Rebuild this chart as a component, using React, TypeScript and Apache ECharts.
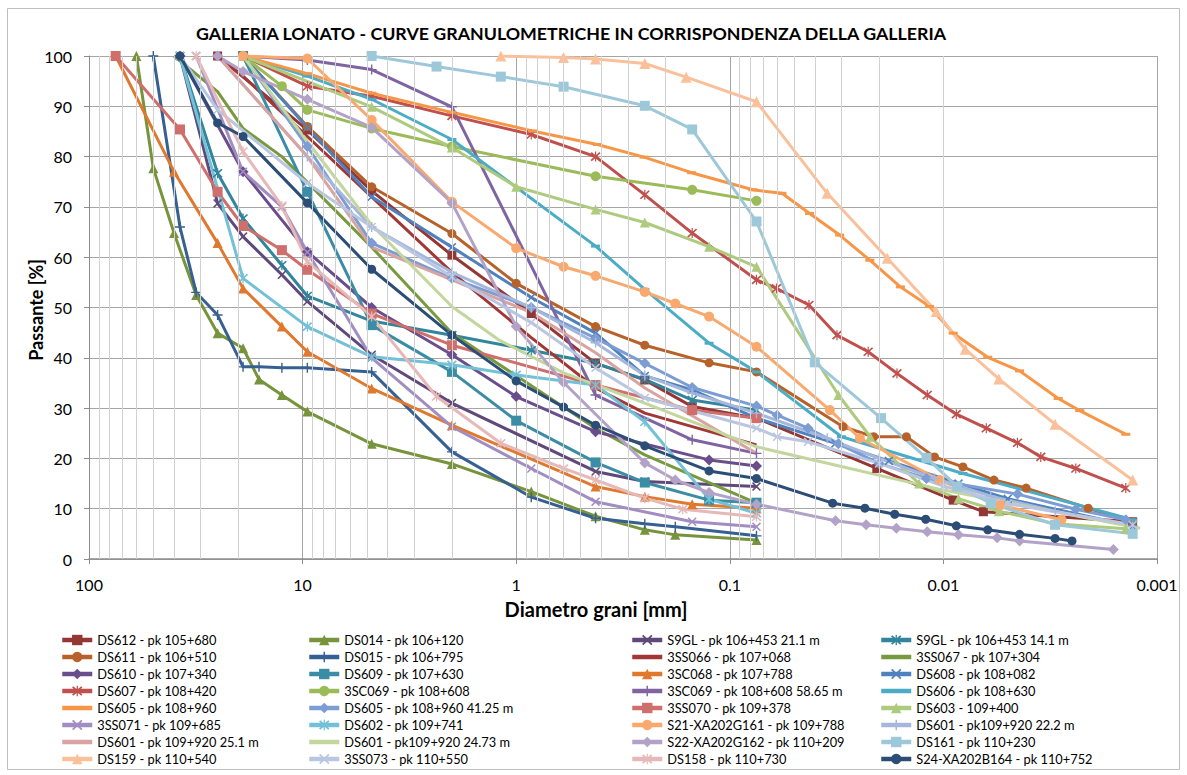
import React, { useEffect, useRef } from 'react';
import * as echarts from 'echarts';

type P = [number, number][];

const DS612: P = [[25,100],[9.5,85.3],[4.75,73.2],[2,60.4],[0.85,48.8],[0.425,38.9],[0.25,35.6],[0.15,30.3],[0.075,28],[0.0205,18],[0.009,11.7],[0.0065,9.4],[0.0013,7.4]];
const DS014: P = [[60,100],[50,77.7],[40,64.8],[31.5,52.5],[25,44.9],[19,41.9],[16,35.7],[12.5,32.6],[9.5,29.3],[4.75,22.9],[2,18.9],[0.85,13.4],[0.425,8.5],[0.25,5.8],[0.18,4.8],[0.075,3.8]];
const S9GL_21: P = [[37.5,100],[25,70.7],[19,64.1],[12.5,56.5],[9.5,51.2],[4.75,40.6],[2,31],[0.425,17.4],[0.25,15.4],[0.075,14.4]];
const S9GL_14: P = [[37.5,100],[25,76.7],[19,67.7],[12.5,58.4],[9.5,52.3],[4.75,47.3],[2,44.5],[0.85,41.5],[0.425,38.9],[0.25,35.7],[0.15,31.6],[0.075,29.6]];
const DS611: P = [[19,100],[9.5,86],[4.75,74],[2,64.7],[1,54.8],[0.425,46.2],[0.25,42.5],[0.125,39],[0.075,37.2],[0.0295,26.3],[0.0212,24.3],[0.0149,24.3],[0.011,20.3],[0.0081,18.3],[0.0058,15.7],[0.0041,14.1],[0.0021,10.1],[0.0013,7.4]];
const DS015: P = [[50,100],[37.5,66],[31.5,53],[25,48.5],[19,38.2],[16,38.2],[12.5,38],[9.5,38],[4.75,37.2],[2,21.3],[0.85,12.3],[0.425,8.1],[0.25,7],[0.18,6.4],[0.075,4.6]];
const SS066: P = [[25,100],[19,96],[9.5,84],[4.75,72],[2,57],[0.85,44],[0.425,34],[0.25,29],[0.075,22.7]];
const SS067: P = [[40,100],[25,92.9],[19,85.6],[12.5,80],[4.75,62],[2,44.9],[0.425,26],[0.25,20.7],[0.075,11.1]];
const DS610: P = [[37.5,100],[19,77],[9.5,61.1],[4.75,50],[2,40.6],[1,32.3],[0.425,25.3],[0.125,19.7],[0.075,18.5]];
const DS609: P = [[19,100],[9.5,73],[4.75,46.5],[2,37.2],[1,27.5],[0.425,19.2],[0.25,15.2],[0.125,11.7],[0.075,11.2]];
const SC068: P = [[75,100],[40,77],[25,62.8],[19,53.8],[12.5,46.2],[9.5,41.2],[4.75,33.9],[2,26.6],[0.425,14.4],[0.25,12.4],[0.15,10.9],[0.075,10.1]];
const DS608: P = [[19,100],[9.5,85.8],[4.75,72],[2,62],[0.85,52],[0.425,44.9],[0.25,36.4],[0.15,33.6],[0.075,28],[0.032,23],[0.018,19.5],[0.0085,15],[0.005,12],[0.0013,6.5]];
const DS607: P = [[19,100],[9.5,94],[4.75,92],[2,88.1],[0.85,84.4],[0.425,80],[0.25,72.4],[0.15,64.8],[0.075,55.5],[0.0605,53.8],[0.0426,50.5],[0.0315,44.5],[0.0225,41.2],[0.0165,36.9],[0.0119,32.6],[0.0087,28.8],[0.0063,26],[0.0045,23.1],[0.0035,20.3],[0.0024,18],[0.0014,14.1]];
const SC069: P = [[19,100],[12.5,94],[9.5,89.3],[4.75,85.6],[2,82],[0.425,76.1],[0.15,73.4],[0.075,71.2]];
const SC069_58: P = [[19,100],[9.5,99.2],[4.75,97.3],[2,89.9],[0.425,32.6],[0.15,23.7],[0.075,21]];
const DS606: P = [[19,100],[9.5,96],[4.75,91.4],[2,83.4],[0.425,62.2],[0.25,53.6],[0.125,42.9],[0.075,37.2],[0.03,24.3],[0.0081,17],[0.0013,7.8]];
const DS605: P = [[19,100],[9.5,96.5],[4.75,92.6],[2,88.8],[0.84,85.1],[0.417,82.4],[0.252,79.9],[0.151,76.8],[0.078,73.4],[0.057,72.7],[0.0423,68.7],[0.0306,64.4],[0.0221,59.4],[0.0159,54.1],[0.0116,50.2],[0.009,44.9],[0.0062,40.1],[0.0044,37.4],[0.0029,31.9],[0.0023,29.5],[0.0014,24.8]];
const DS605_41: P = [[19,100],[9.5,82],[4.75,62.8],[2,55.8],[0.85,50],[0.425,43.9],[0.25,38.9],[0.15,34.1],[0.075,30.4],[0.06,28.6],[0.043,26],[0.031,22.9],[0.02,19],[0.012,16],[0.0045,12.9],[0.0024,9.9],[0.0014,7.8]];
const SS070: P = [[75,100],[37.5,85.4],[25,73],[19,66.2],[12.5,61.4],[9.5,57.5],[4.75,48.8],[2,42.5],[0.425,34.6],[0.15,29.6],[0.075,28]];
const DS603: P = [[19,100],[4.75,89.9],[2,81.8],[1,74],[0.425,69.5],[0.25,66.9],[0.125,62.1],[0.075,58.1],[0.031,32.6],[0.022,24.3],[0.013,15],[0.0085,12],[0.0055,9.5],[0.003,7],[0.0014,6]];
const SS071: P = [[31.5,100],[19,77],[12.5,70],[9.5,61],[4.75,40],[2,26.3],[0.85,18],[0.425,11.4],[0.15,7.4],[0.075,6.4]];
const DS602: P = [[37.5,100],[19,55.8],[9.5,46.2],[4.75,40.2],[2,38.6],[1,36.6],[0.425,34.6],[0.25,27.3],[0.125,11.9],[0.075,9.1]];
const S21: P = [[19,100],[9.5,99.5],[4.75,87.3],[2,71],[1,61.8],[0.6,58.1],[0.425,56.3],[0.25,53.1],[0.18,50.8],[0.125,48.2],[0.075,42.2],[0.034,29.6],[0.0246,24],[0.0104,15.7],[0.0054,10.7],[0.0028,7.8]];
const DS601_22: P = [[25,100],[9.5,80],[4.75,66],[2,57],[0.85,50],[0.425,43],[0.25,36.5],[0.15,33],[0.075,29],[0.035,24],[0.02,20],[0.011,16],[0.006,12.5],[0.003,9.5],[0.0013,6.5]];
const DS601_25: P = [[25,100],[9.5,80],[4.75,62],[2,55.5],[0.85,49],[0.425,41],[0.25,34],[0.075,21]];
const DS601_24: P = [[19,100],[9.5,83],[4.75,66.4],[2,50.2],[1.2,43.5],[0.6,37],[0.25,31],[0.075,22.3],[0.01,13.7],[0.0012,6.1]];
const S22: P = [[25,100],[19,96.9],[9.5,91.4],[4.75,85.8],[2,70.8],[1,46.2],[0.6,35.1],[0.25,19.1],[0.18,15.7],[0.125,13.2],[0.075,10.9],[0.032,7.6],[0.023,6.8],[0.0166,6.1],[0.0119,5.4],[0.0085,4.8],[0.0056,4.2],[0.0044,3.6],[0.0016,1.9]];
const DS161: P = [[4.75,100],[2.36,97.9],[1.18,95.9],[0.6,93.9],[0.25,90.1],[0.15,85.4],[0.075,67.1],[0.04,39.1],[0.0196,28],[0.012,20.1],[0.0086,14.4],[0.006,11.1],[0.003,6.8],[0.0013,5]];
const DS159: P = [[1.18,100],[0.6,99.7],[0.425,99.4],[0.25,98.5],[0.16,95.8],[0.075,90.9],[0.035,72.7],[0.0183,59.8],[0.0108,49.2],[0.0079,41.7],[0.0055,35.8],[0.003,26.8],[0.0013,15.7]];
const SS073: P = [[37.5,100],[25,89.3],[9.5,74.7],[4.75,66],[2,56.1],[0.85,47],[0.425,38],[0.25,32],[0.075,26],[0.06,24.3],[0.043,23.3],[0.02,19],[0.01,14.5],[0.005,11],[0.0013,6.8]];
const DS158: P = [[31.5,100],[19,81],[12.5,70.2],[9.5,59.1],[4.75,48.2],[2.36,32.3],[1.18,23],[0.6,18],[0.425,15.7],[0.25,12.1],[0.166,9.9],[0.075,8.4]];
const S24: P = [[37.5,100],[25,86.7],[19,84],[9.5,70.8],[4.75,57.6],[2,44.5],[1,35.4],[0.6,30.2],[0.425,26.6],[0.25,22.5],[0.125,17.5],[0.075,16],[0.033,11.1],[0.0233,10.1],[0.0169,8.9],[0.0121,7.9],[0.0087,6.6],[0.0062,5.8],[0.0044,4.9],[0.003,4.1],[0.0025,3.6]];

const X_TICK_LABELS = ['100', '10', '1', '0.1', '0.01', '0.001'];
const MINOR_GRID: number[] = [];
[0.001, 0.01, 0.1, 1, 10].forEach((d) => { for (let k = 2; k <= 9; k++) MINOR_GRID.push(+(k * d).toPrecision(3)); });

const X_PATH = 'path://M1.2,0L5,3.8L8.8,0L10,1.2L6.2,5L10,8.8L8.8,10L5,6.2L1.2,10L0,8.8L3.8,5L0,1.2Z';
const PLUS_PATH = 'path://M4.3,0H5.7V4.3H10V5.7H5.7V10H4.3V5.7H0V4.3H4.3Z';
const STAR_PATH = 'path://M1.2,0L5,3.8L8.8,0L10,1.2L6.2,5L10,8.8L8.8,10L5,6.2L1.2,10L0,8.8L3.8,5L0,1.2Z M4.4,-0.5H5.6V10.5H4.4Z';

const SERIES_DEF: { name: string; data: P; color: string; symbol: string; size: number | number[]; legendLine?: boolean }[] = [
  { name: 'DS612 - pk 105+680', data: DS612, color: '#943634', symbol: 'rect', size: 9 },
  { name: 'DS014 - pk 106+120', data: DS014, color: '#77933C', symbol: 'triangle', size: 10 },
  { name: 'S9GL - pk 106+453 21.1 m', data: S9GL_21, color: '#5F497A', symbol: X_PATH, size: 9 },
  { name: 'S9GL - pk 106+453 14.1 m', data: S9GL_14, color: '#31859C', symbol: STAR_PATH, size: 10 },
  { name: 'DS611 - pk 106+510', data: DS611, color: '#B7622A', symbol: 'circle', size: 9 },
  { name: 'DS015 - pk 106+795', data: DS015, color: '#376092', symbol: PLUS_PATH, size: 10 },
  { name: '3SS066 - pk 107+068', data: SS066, color: '#A23735', symbol: 'none', size: 0, legendLine: true },
  { name: '3SS067 - pk 107+304', data: SS067, color: '#789A3E', symbol: 'none', size: 0, legendLine: true },
  { name: 'DS610 - pk 107+340', data: DS610, color: '#6A4E8C', symbol: 'diamond', size: 11 },
  { name: 'DS609 - pk 107+630', data: DS609, color: '#3A8DA4', symbol: 'rect', size: 10 },
  { name: '3SC068 - pk 107+788', data: SC068, color: '#E0782E', symbol: 'triangle', size: 10 },
  { name: 'DS608 - pk 108+082', data: DS608, color: '#4F81BD', symbol: X_PATH, size: 9 },
  { name: 'DS607 - pk 108+420', data: DS607, color: '#C0504D', symbol: STAR_PATH, size: 10 },
  { name: '3SC069 - pk 108+608', data: SC069, color: '#9BBB59', symbol: 'circle', size: 10 },
  { name: '3SC069 - pk 108+608 58.65 m', data: SC069_58, color: '#8064A2', symbol: PLUS_PATH, size: 10 },
  { name: 'DS606 - pk 108+630', data: DS606, color: '#4BACC6', symbol: 'rect', size: [9, 3], legendLine: true },
  { name: 'DS605 - pk 108+960', data: DS605, color: '#F79646', symbol: 'rect', size: [9, 3], legendLine: true },
  { name: 'DS605 - pk 108+960 41.25 m', data: DS605_41, color: '#7B9DD3', symbol: 'diamond', size: 11 },
  { name: '3SS070 - pk 109+378', data: SS070, color: '#D06E6C', symbol: 'rect', size: 10 },
  { name: 'DS603 - 109+400', data: DS603, color: '#AECA7C', symbol: 'triangle', size: 10 },
  { name: '3SS071 - pk 109+685', data: SS071, color: '#A28DC2', symbol: X_PATH, size: 9 },
  { name: 'DS602 - pk 109+741', data: DS602, color: '#72C1D6', symbol: STAR_PATH, size: 10 },
  { name: 'S21-XA202G161 - pk 109+788', data: S21, color: '#F9A96E', symbol: 'circle', size: 10 },
  { name: 'DS601 - pk109+920 22.2 m', data: DS601_22, color: '#A5B8DC', symbol: PLUS_PATH, size: 10 },
  { name: 'DS601 - pk 109+920 25.1 m', data: DS601_25, color: '#D9A3A1', symbol: 'none', size: 0, legendLine: true },
  { name: 'DS601 - pk109+920 24.73 m', data: DS601_24, color: '#C3D69B', symbol: 'none', size: 0, legendLine: true },
  { name: 'S22-XA202G162 - pk 110+209', data: S22, color: '#B3A2C7', symbol: 'diamond', size: 11 },
  { name: 'DS161 - pk 110+230', data: DS161, color: '#9DC8DA', symbol: 'rect', size: 10 },
  { name: 'DS159 - pk 110+540', data: DS159, color: '#FAC09A', symbol: 'triangle', size: 11 },
  { name: '3SS073 - pk 110+550', data: SS073, color: '#B9C6E2', symbol: X_PATH, size: 9 },
  { name: 'DS158 - pk 110+730', data: DS158, color: '#E6B9B8', symbol: STAR_PATH, size: 10 },
  { name: 'S24-XA202B164 - pk 110+752', data: S24, color: '#2C4D75', symbol: 'circle', size: 9 },
];

const FONT = 'Lato, "Open Sans", sans-serif';

function buildOption(): any {
  const legendLefts = [60, 307, 630, 879];
  const legends = legendLefts.map((left, col) => ({
    type: 'plain',
    data: SERIES_DEF.filter((_, i) => i % 4 === col).map((s) =>
      s.legendLine ? { name: s.name, itemStyle: { opacity: 0 } } : { name: s.name }
    ),
    orient: 'vertical',
    left,
    top: 631.5,
    height: 140,
    padding: 0,
    itemWidth: 30,
    itemHeight: 13,
    itemGap: 0,
    selectedMode: false,
    lineStyle: { width: 4.5 },
    textStyle: { fontFamily: FONT, fontSize: 12.8, lineHeight: 17, color: '#000' },
  }));
  const helper = {
    type: 'line',
    name: '__grid',
    data: [],
    silent: true,
    z: 1,
    markLine: {
      silent: true,
      symbol: ['none', 'none'],
      label: { show: false },
      emphasis: { disabled: true },
      lineStyle: { color: '#d2d2d2', width: 1, type: 'solid' },
      data: MINOR_GRID.map((v) => ({ xAxis: v })),
    },
  };
  const series = SERIES_DEF.map((s) => ({
    type: 'line',
    name: s.name,
    data: s.data,
    symbol: s.symbol,
    symbolSize: s.size,
    showSymbol: s.symbol !== 'none',
    showAllSymbol: true,
    lineStyle: { color: s.color, width: 3 },
    itemStyle: { color: s.color },
    emphasis: { disabled: true },
    silent: true,
    z: 2,
  }));
  return {
    animation: false,
    backgroundColor: '#ffffff',
    textStyle: { fontFamily: FONT },
    grid: { left: 89, right: 30, top: 56, bottom: 216, containLabel: false },
    xAxis: {
      type: 'log',
      logBase: 10,
      min: 0.001,
      max: 100,
      inverse: true,
      axisLine: { show: true, lineStyle: { color: '#8c8c8c', width: 1.5 } },
      axisTick: { show: true, length: 5, lineStyle: { color: '#8c8c8c' } },
      axisLabel: {
        fontSize: 16, color: '#000', margin: 17, fontFamily: FONT,
        formatter: (v: number) => {
          const e = Math.round(Math.log10(v));
          return X_TICK_LABELS[2 - e] ?? String(v);
        },
      },
      splitLine: { show: true, lineStyle: { color: '#a6a6a6', width: 1 } },
    },
    yAxis: {
      type: 'value',
      min: 0,
      max: 100,
      interval: 10,
      axisLine: { show: true, lineStyle: { color: '#8c8c8c', width: 1 } },
      axisTick: { show: true, length: 5, lineStyle: { color: '#8c8c8c' } },
      axisLabel: { fontSize: 16, color: '#000', margin: 17, fontFamily: FONT },
      splitLine: { show: true, lineStyle: { color: '#a6a6a6', width: 1 } },
    },
    legend: legends,
    graphic: [
      {
        type: 'rect',
        shape: { x: 7.5, y: 8.5, width: 1172, height: 761 },
        style: { fill: 'none', stroke: '#bfbfbf', lineWidth: 1 },
        silent: true,
        z: -1,
      },
      {
        type: 'text',
        x: 571,
        y: 33,
        style: {
          text: 'GALLERIA LONATO - CURVE GRANULOMETRICHE IN CORRISPONDENZA DELLA GALLERIA',
          fontFamily: FONT, fontSize: 17.8, fontWeight: 'bold', fill: '#000',
          textAlign: 'center', textVerticalAlign: 'middle',
        },
        silent: true,
      },
      {
        type: 'text',
        x: 596,
        y: 609,
        style: {
          text: 'Diametro grani [mm]',
          fontFamily: FONT, fontSize: 20, fontWeight: 'bold', fill: '#000',
          textAlign: 'center', textVerticalAlign: 'middle',
        },
        silent: true,
      },
      {
        type: 'text',
        x: 36,
        y: 310,
        rotation: Math.PI / 2,
        style: {
          text: 'Passante [%]',
          fontFamily: FONT, fontSize: 18, fontWeight: 'bold', fill: '#000',
          textAlign: 'center', textVerticalAlign: 'middle',
        },
        silent: true,
      },
    ],
    series: [helper, ...series],
  };
}

export default function App() {
  const ref = useRef<HTMLDivElement>(null);
  useEffect(() => {
    document.body.style.margin = '0';
    if (!ref.current) return;
    const chart = echarts.init(ref.current, null, { renderer: 'svg' });
    chart.setOption(buildOption());
    return () => chart.dispose();
  }, []);
  return <div ref={ref} style={{ position: 'absolute', left: 0, top: 0, width: 1187, height: 775, background: '#fff' }} />;
}
